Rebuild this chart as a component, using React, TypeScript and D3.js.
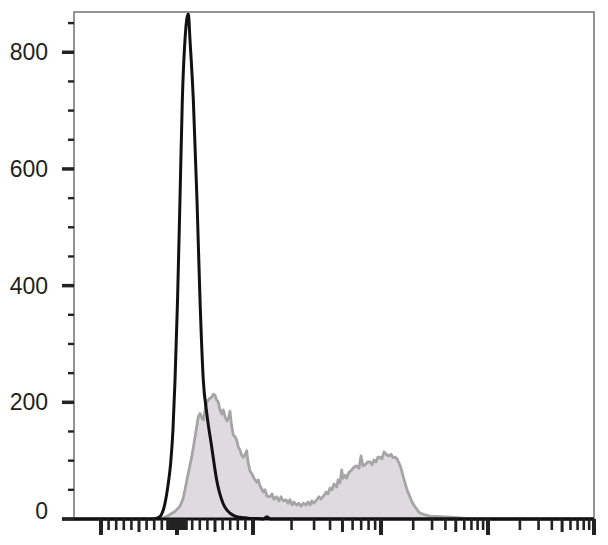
import * as d3 from "d3";

// fluorescence values (bin centres) and event counts
const grayValues = [
  -2265, -224, -136, -79, -26, 39, 79, 105, 149, 193,
  237, 280, 303, 329, 349, 368, 395, 412, 434, 457,
  478, 500, 522, 543, 566, 589, 609, 632, 658, 678,
  697, 717, 741, 763, 786, 807, 829, 849, 872, 895,
  917, 934, 961, 987, 1018, 1069, 1100, 1134, 1204, 1241,
  1286, 1358, 1407, 1459, 1532, 1596, 1655, 1724, 1811, 1877,
  1946, 2018, 2091, 2195, 2288, 2371, 2472, 2595, 2690, 2788,
  2891, 2997, 3146, 3279, 3398, 3541, 3718, 3855, 3996, 4142,
  4294, 4508, 4615, 4784, 4932, 5049, 5234, 5395, 5623, 5903,
  6153, 6460, 6732, 6978, 7233, 7499, 7914, 8205, 8506, 8818,
  9140, 9475, 9822, 10220, 10670, 10900, 11380, 11880, 12400, 12950,
  13520, 14110, 14730, 15380, 16060, 16760, 17500, 18660, 19490, 20780,
  22180, 23150, 25780, 28710, 35600, 44150, 54730, 67880, 1e6
];
const grayCounts = [
  0, 0, 4, 9, 13, 22, 34, 50, 79, 106,
  140, 175, 181, 173, 170, 187, 201, 204, 207, 209,
  214, 212, 204, 200, 187, 180, 187, 175, 168, 173,
  185, 161, 144, 141, 135, 123, 118, 110, 106, 110,
  117, 98, 82, 77, 70, 63, 67, 57, 46, 50,
  39, 38, 43, 34, 38, 31, 38, 31, 33, 27,
  33, 24, 29, 24, 27, 22, 27, 24, 29, 24,
  31, 27, 33, 38, 34, 39, 46, 43, 53, 50,
  60, 55, 67, 62, 84, 70, 75, 70, 80, 84,
  89, 91, 87, 108, 91, 93, 98, 98, 93, 101,
  98, 106, 106, 103, 115, 113, 110, 108, 111, 105,
  106, 103, 96, 87, 74, 62, 50, 38, 29, 21,
  14, 10, 7, 5, 4, 3, 2, 0, 0
];

const blackValues = [
  -2265, -355, -276, -224, -184, -158, -118, -83, -53, -26,
  7, 39, 70, 105, 149, 171, 215, 263, 303, 346,
  391, 457, 522, 605, 697, 763, 829, 895, 960, 1094,
  1200, 1286, 1358, 1625, 1e6
];
const blackCounts = [
  0, 0, 1, 4, 14, 27, 58, 96, 153, 238,
  375, 547, 718, 821, 866, 821, 718, 547, 375, 238,
  182, 123, 67, 27, 10, 5, 3, 2, 1, 1,
  0, 4, 0, 0, 0
];

const yMajor = [0, 200, 400, 600, 800];
const yMinor = [50, 100, 150, 250, 300, 350, 450, 500, 550, 650, 700, 750, 850];
const xMajor = [-1000, 0, 1000, 1e4, 1e5, 1e6];
const xMedium = [-500, 500, 5e3, 5e4, 5e5];
const xDense = [-125, -80, -60, -40, -20, 20, 40, 60, 80, 125];

const W = 608;
const H = 545;
const left = 74;
const top = 12;
const bottom = 519;
// pixel widths: padding left of -10^3, then -10^3..0, 0..10^3, and the three decades
const segWidths = [27, 76, 76, 128, 107, 106];

// biexponential-like display: linear within +-1000, log outside
function tr(v: number) {
  const a = Math.abs(v);
  const t = a <= 1000 ? a / 1000 : 1 + Math.log10(a / 1000);
  return Math.sign(v) * t;
}

export default function App() {
  const anchors = d3.cumsum(segWidths).map(d => left + d);
  const xs = d3.scaleLinear().domain([-1, 0, 1, 2, 3, 4]).range(Array.from(anchors));
  const x = (v: number) => xs(tr(v));
  const right = x(1e6);
  const y = d3.scaleLinear().domain([0, 869]).range([bottom, top]);

  const gray = grayValues.map((v, i) => [v, grayCounts[i]] as [number, number]);
  const black = blackValues.map((v, i) => [v, blackCounts[i]] as [number, number]);

  const area = d3.area<[number, number]>()
    .x(d => x(d[0]))
    .y0(y(0))
    .y1(d => y(d[1]));
  const line = d3.line<[number, number]>()
    .x(d => x(d[0]))
    .y(d => y(d[1]));
  const smooth = d3.line<[number, number]>()
    .x(d => x(d[0]))
    .y(d => y(d[1]))
    .curve(d3.curveMonotoneX);

  const linMinor = d3.range(-900, 1000, 100).filter(v => v !== 0 && Math.abs(v) !== 500);
  const logMinor: number[] = [];
  [1e3, 1e4, 1e5].forEach(b => [2, 3, 4, 6, 7, 8, 9].forEach(m => logMinor.push(m * b)));
  const xMinor = [...linMinor, ...xDense, ...logMinor];

  const font = "'Liberation Sans', Arial, Helvetica, sans-serif";

  return (
    <svg width={W} height={H} style={{ position: "absolute", left: 0, top: 0, background: "#fff" }}>
      <path d={area(gray) ?? ""} fill="#dedbde" />
      <path d={line(gray) ?? ""} fill="none" stroke="#a5a5a5" strokeWidth={2.8} strokeLinejoin="round" />
      <path d={smooth(black) ?? ""} fill="none" stroke="#111" strokeWidth={3} strokeLinejoin="round" />

      <rect x={left} y={top} width={right - left} height={bottom - top} fill="none" stroke="#7a7a7a" strokeWidth={1.6} />
      <line x1={62} x2={right} y1={bottom} y2={bottom} stroke="#111" strokeWidth={3} />

      {yMinor.map(v => (
        <line key={`ym${v}`} x1={68} x2={left} y1={y(v)} y2={y(v)} stroke="#222" strokeWidth={2.4} />
      ))}
      {yMajor.map(v => (
        <g key={`yM${v}`}>
          <line x1={62} x2={left} y1={y(v)} y2={y(v)} stroke="#222" strokeWidth={3.5} />
          <text
            x={48}
            y={v === 0 ? y(v) - 8 : y(v)}
            textAnchor="end"
            dominantBaseline="central"
            fontFamily={font}
            fontSize={23}
            fill="#222"
          >
            {v}
          </text>
        </g>
      ))}

      {xMinor.map(v => (
        <line key={`xm${v}`} x1={x(v)} x2={x(v)} y1={bottom} y2={530} stroke="#222" strokeWidth={2.6} />
      ))}
      {xMedium.map(v => (
        <line key={`xd${v}`} x1={x(v)} x2={x(v)} y1={bottom} y2={532} stroke="#222" strokeWidth={3} />
      ))}
      {xMajor.map(v => (
        <line key={`xM${v}`} x1={x(v)} x2={x(v)} y1={bottom} y2={535} stroke="#222" strokeWidth={4} />
      ))}
    </svg>
  );
}
